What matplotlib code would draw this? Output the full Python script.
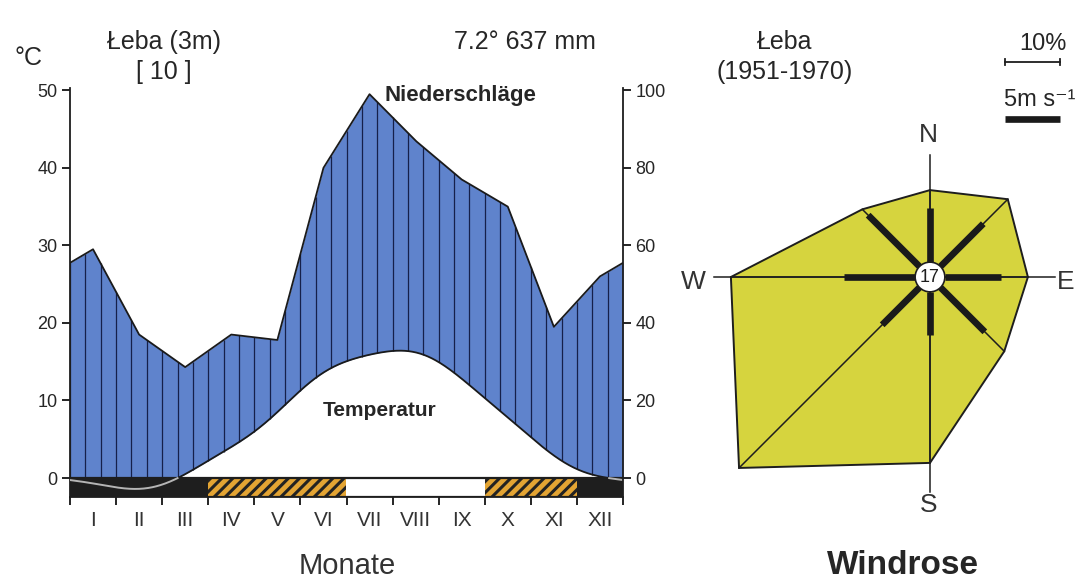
import numpy as np
import matplotlib; matplotlib.use("Agg")
import matplotlib.pyplot as plt
from matplotlib.patches import Rectangle, Polygon, Circle

# ---- climate diagram data (Łeba) ----
MONTHS = ["I","II","III","IV","V","VI","VII","VIII","IX","X","XI","XII"]
TEMP = [-0.7, -1.4, 0.5, 4.0, 8.5, 13.6, 15.9, 16.2, 12.8, 7.8, 2.9, 0.2]      # °C
PREC = [59, 37, 28.6, 37, 35.6, 80, 99, 87, 77, 70, 39, 52]                   # mm
FROST = ["black","black","black","hatch","hatch","hatch","white","white","white","hatch","hatch","black"]

# ---- wind rose data ----
DIRS = [0, 45, 90, 135, 180, 225, 270, 315]        # N NE E SE S SW W NW (deg from north)
FREQ = [15.8, 20.0, 17.8, 19.1, 33.8, 49.1, 36.2, 17.4]   # %
SPEED = [4.9, 5.5, 5.1, 5.7, 3.9, 4.8, 6.5, 6.6]          # m/s
CALM = 17

BLUE = "#5f83cc"; YEL = "#d6d43e"; ORA = "#e3a433"; TXT = "#262626"
plt.rcParams.update({"font.family": ["Liberation Sans", "DejaVu Sans"], "hatch.linewidth": 2.2})

W, H = 1075, 583
fig = plt.figure(figsize=(W/100, H/100), dpi=100)
fig.patch.set_facecolor("white")
px = lambda x, y: (x/W, 1-y/H)

# ---------------- climate diagram ----------------
ybot = -2.45
ax = fig.add_axes([70/W, (H-497)/H, 553/W, 409/H])
ax.set_xlim(0, 12); ax.set_ylim(ybot, 50.3)
xm = np.arange(12) + 0.5
xs = np.linspace(0, 12, 721)

def trig(vals, x):
    v = np.asarray(vals, float); n = len(v); c = np.fft.fft(v)/n; t = x - 0.5
    out = np.full_like(t, c[0].real)
    for k in range(1, n//2):
        out += 2*(c[k]*np.exp(2j*np.pi*k*t/n)).real
    out += (c[n//2]*np.exp(1j*np.pi*t)).real
    return out

T = trig(TEMP, xs)
P = np.interp(xs, xm, PREC, period=12)/2
ax.fill_between(xs, np.maximum(T, 0), P, color=BLUE, lw=0, zorder=1)
xv = np.arange(0, 12.01, 1/3)
ax.vlines(xv, np.maximum(trig(TEMP, xv), 0), np.interp(xv, xm, PREC, period=12)/2, color="#16204a", lw=0.9, zorder=2)
ax.plot(xs, P, color="#1a1a1a", lw=1.3, zorder=3)
ax.plot(xs, np.where(T >= 0, T, np.nan), color="#1a1a1a", lw=1.3, zorder=3)

for i, k in enumerate(FROST):
    if k == "hatch":
        r = Rectangle((i, ybot), 1, -ybot, facecolor=ORA, edgecolor="#222", hatch="///", lw=0, zorder=4)
    else:
        r = Rectangle((i, ybot), 1, -ybot, facecolor="#1e1e1e" if k == "black" else "white", lw=0, zorder=4)
    ax.add_patch(r)
ax.add_patch(Rectangle((0, ybot), 12, -ybot, fill=False, edgecolor="#1e1e1e", lw=1.6, zorder=5))
ax.plot(xs, np.where(T < 0, T, np.nan), color="#b5b5b5", lw=1.4, zorder=6)

for s in ["top", "right"]: ax.spines[s].set_visible(False)
for s in ["left", "bottom"]: ax.spines[s].set_linewidth(1.3); ax.spines[s].set_color("#1e1e1e")
ax.set_yticks(range(0, 51, 10))
ax.tick_params(axis="y", labelsize=13, labelcolor=TXT, length=6, width=1.2, pad=3)
ax.set_xticks(range(13)); ax.set_xticklabels([])
ax.tick_params(axis="x", which="major", length=6, width=1.2, direction="out")
ax.set_xticks(xm, minor=True); ax.set_xticklabels(MONTHS, minor=True)
ax.tick_params(axis="x", which="minor", length=0, pad=10, labelsize=15, labelcolor="#333")

ax2 = ax.twinx(); ax2.set_ylim(2*ybot, 100.6)
for s in ["top", "left", "bottom"]: ax2.spines[s].set_visible(False)
ax2.spines["right"].set_linewidth(1.3); ax2.spines["right"].set_color("#1e1e1e")
ax2.set_yticks(range(0, 101, 20))
ax2.tick_params(axis="y", labelsize=13, labelcolor=TXT, length=6, width=1.2, pad=3)

fig.text(*px(14, 58), "°C", fontsize=18, color=TXT, va="center")
fig.text(*px(164, 42), "Łeba (3m)", fontsize=18, color=TXT, ha="center", va="center")
fig.text(*px(164, 72), "[ 10 ]", fontsize=18, color=TXT, ha="center", va="center")
fig.text(*px(525, 42), "7.2° 637 mm", fontsize=18, color=TXT, ha="center", va="center")
fig.text(*px(460, 95), "Niederschläge", fontsize=16, fontweight="bold", color=TXT, ha="center", va="center")
fig.text(*px(380, 410), "Temperatur", fontsize=15, fontweight="bold", color=TXT, ha="center", va="center")
fig.text(*px(347, 566), "Monate", fontsize=21, color="#333", ha="center", va="center")

# ---------------- wind rose ----------------
S = 5.5   # px per %
cx, cy = 930, 277
axw = fig.add_axes([660/W, 0, 415/W, 1])
axw.set_xlim(-(cx-660)/S, (W-cx)/S); axw.set_ylim(-(H-cy)/S, cy/S); axw.axis("off")
th = np.deg2rad(DIRS)
fx, fy = np.array(FREQ)*np.sin(th), np.array(FREQ)*np.cos(th)
axw.add_patch(Polygon(np.c_[fx, fy], closed=True, facecolor=YEL, edgecolor="#1e1e1e", lw=1.4, zorder=1))
for x, y in zip(fx, fy): axw.plot([0, x], [0, y], color="#1e1e1e", lw=1.1, zorder=2)
axw.plot([0, 0], [-39.1, 22.2], color="#1e1e1e", lw=1.1, zorder=2)
axw.plot([-39.3, 22.7], [0, 0], color="#1e1e1e", lw=1.1, zorder=2)
rc = 2.7; ms = 2.0   # calm circle radius (%), % units per m/s
for t, v in zip(th, SPEED):
    r1 = rc + v*ms
    axw.plot([rc*np.sin(t), r1*np.sin(t)], [rc*np.cos(t), r1*np.cos(t)], color="#1a1a1a", lw=4.8, solid_capstyle="butt", zorder=3)
axw.add_patch(Circle((0, 0), rc, facecolor="white", edgecolor="#1e1e1e", lw=1.2, zorder=4))
axw.text(0, 0, str(CALM), fontsize=13, ha="center", va="center", color="#1e1e1e", zorder=5)
lab = dict(fontsize=19, color="#333", ha="center", va="center")
axw.text(-0.3, 25.8, "N", **lab); axw.text(-0.3, -41.4, "S", **lab)
axw.text(-43.0, -0.9, "W", **lab); axw.text(24.6, -0.9, "E", **lab)
# scale bars
axw.plot([13.6, 23.6], [39.1, 39.1], color="#1e1e1e", lw=1.3)
axw.plot([13.6, 13.6], [38.5, 39.7], color="#1e1e1e", lw=1.3); axw.plot([23.6, 23.6], [38.5, 39.7], color="#1e1e1e", lw=1.3)
axw.plot([13.6, 13.6 + 5*ms], [28.8, 28.8], color="#1a1a1a", lw=4.8, solid_capstyle="butt")
fig.text(*px(1043, 44), "10%", fontsize=17, color=TXT, ha="center", va="center")
fig.text(*px(1004, 100), "5m s⁻¹", fontsize=17, color=TXT, ha="left", va="center")
fig.text(*px(785, 42), "Łeba", fontsize=18, color=TXT, ha="center", va="center")
fig.text(*px(785, 72), "(1951-1970)", fontsize=18, color=TXT, ha="center", va="center")
fig.text(*px(903, 566), "Windrose", fontsize=24, fontweight="bold", color=TXT, ha="center", va="center")

fig.savefig("out.png", dpi=100)
